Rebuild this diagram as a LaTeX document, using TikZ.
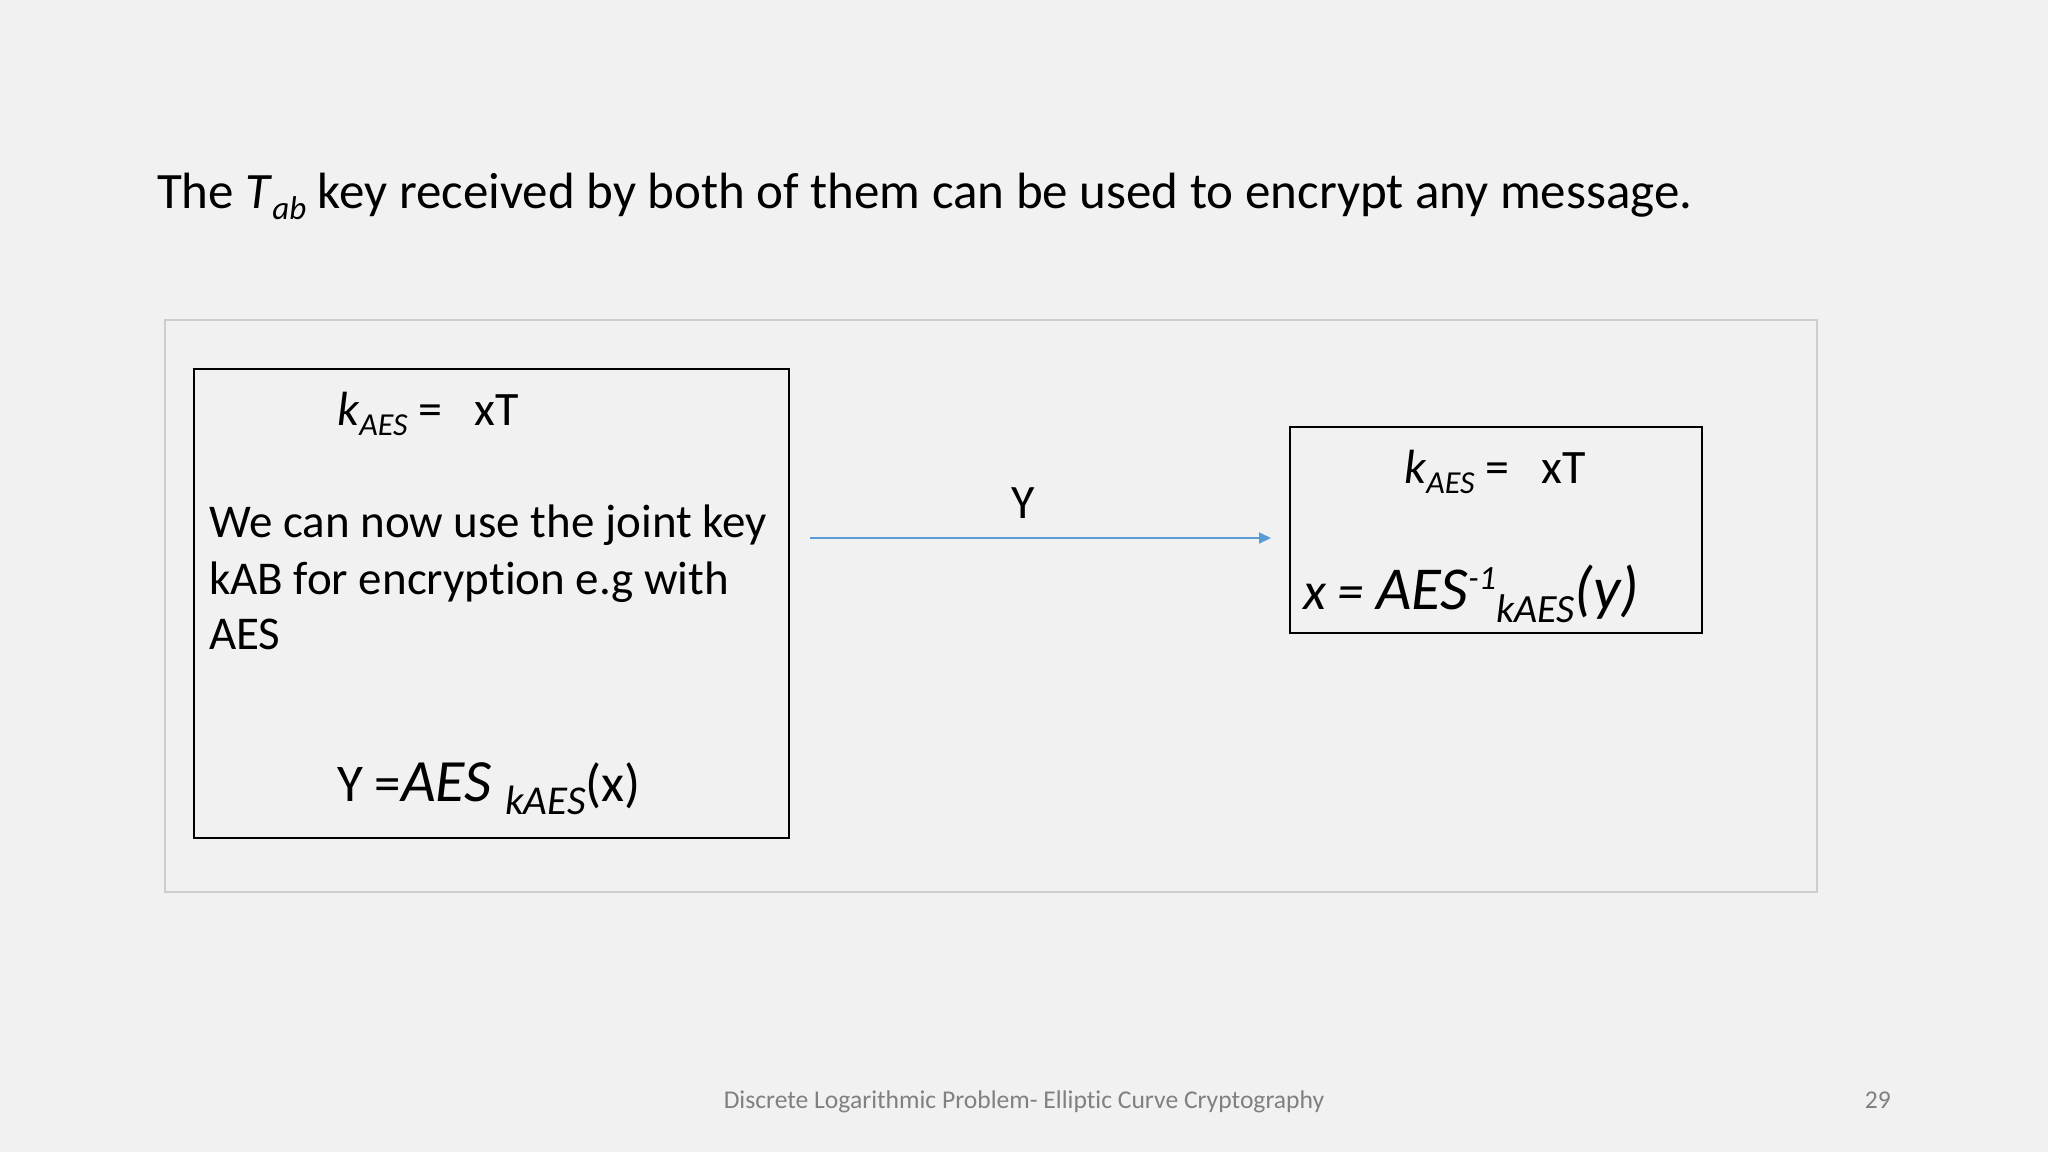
\documentclass[tikz,border=0pt]{standalone}
\usepackage{fontspec}
\setmainfont{Carlito}[Ligatures=NoCommon]
\usetikzlibrary{arrows.meta}
\definecolor{bg}{RGB}{242,241,242}
\definecolor{framegray}{RGB}{205,205,205}
\definecolor{arrowblue}{RGB}{91,155,213}
\definecolor{footgray}{RGB}{128,128,128}
\newcommand{\fs}[1]{\fontsize{#1}{#1}\selectfont}
\newcommand{\sub}[3]{\raisebox{-#1pt}{\fs{#2}\itshape #3}}
\begin{document}
\begin{tikzpicture}[x=1pt,y=-1pt,
  txt/.style={anchor=base west, inner sep=0pt, outer sep=0pt},
  boxstyle/.style={draw=black, line width=1.5pt, fill=none, inner sep=0pt}]
\fill[bg] (0,0) rectangle (2048,1152);
\useasboundingbox (0,0) rectangle (2048,1152);
% title
\node[txt] (title) at (157,208) {\fs{51}The \textit{T}\sub{11}{33}{ab} key received by both of them can be used to encrypt any message.};
% outer frame
\draw[framegray, line width=1.5pt] (165,320) rectangle (1817,892);
% boxes
\node[boxstyle, minimum width=595pt, minimum height=469pt, anchor=north west] (left) at (193,368) {};
\node[boxstyle, minimum width=412pt, minimum height=206pt, anchor=north west] (right) at (1289,426) {};
% left box text
\node[txt] (lk) at (337,425) {\fs{48}\textit{k}\sub{10}{32}{AES} = \ \ xT};
\node[txt] (l1) at (209,537) {\fs{47}We can now use the joint key};
\node[txt] (l2) at (209,594) {\fs{47}kAB for encryption e.g with};
\node[txt] (l3) at (209,649) {\fs{47}AES};
\node[txt] (ly) at (337,801) {\fs{53}Y =\fs{60}\textit{AES} \sub{13}{41}{kAES}\fs{53}(x)};
% right box text
\node[txt] (rk) at (1404,483) {\fs{48}\textit{k}\sub{10}{32}{AES} = \ \ xT};
\node[txt] (rx) at (1303,609) {\fs{53}\textit{x = }\fs{61}\textit{AES}\raisebox{20pt}{\fs{34}\itshape -1}\sub{13}{40}{kAES}\fs{61}\textit{(y)}};
% arrow
\coordinate (as) at (810,538);
\coordinate (ae) at (1271,538);
\draw[arrowblue, line width=2pt, -{Triangle[length=12pt,width=11pt]}] (as) -- (ae);
\node[anchor=base, inner sep=0pt] (ylab) at (1023,518) {\fs{48}Y};
% footer
\node[anchor=base, inner sep=0pt, text=footgray] (foot) at (1024,1108) {\fs{25.6}Discrete Logarithmic Problem- Elliptic Curve Cryptography};
\node[anchor=base east, inner sep=0pt, text=footgray] (page) at (1891,1108) {\fs{25.6}29};
\end{tikzpicture}
\end{document}
